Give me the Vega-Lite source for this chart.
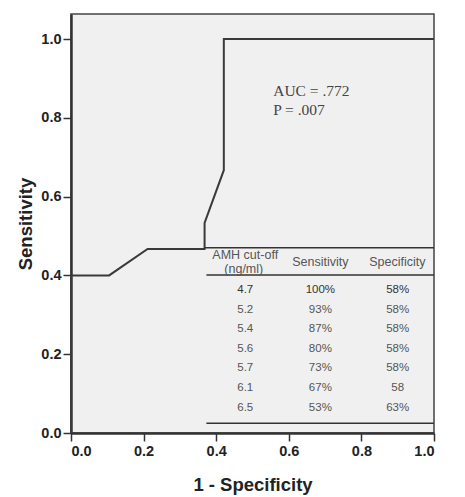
{
  "$schema": "https://vega.github.io/schema/vega-lite/v6.json",
  "autosize": "none",
  "width": 363,
  "height": 419,
  "padding": {"left": 71, "top": 14, "right": 31, "bottom": 64},
  "background": "white",
  "config": {
    "view": {"fill": "#f0f0f0", "stroke": "#444444", "strokeWidth": 1.5},
    "axis": {
      "grid": false,
      "domainColor": "#333333",
      "domainWidth": 2.5,
      "tickColor": "#333333",
      "tickWidth": 1.5,
      "tickSize": 8,
      "labelFont": "Liberation Sans",
      "labelFontWeight": "bold",
      "labelFontSize": 14.5,
      "labelColor": "#222222",
      "titleFont": "Liberation Sans",
      "titleFontWeight": "bold",
      "titleFontSize": 18.5,
      "titleColor": "#222222"
    }
  },
  "datasets": {
    "roc": [
      {"fpr": 0, "tpr": 0, "k": 0},
      {"fpr": 0, "tpr": 0.4, "k": 1},
      {"fpr": 0.105, "tpr": 0.4, "k": 2},
      {"fpr": 0.211, "tpr": 0.467, "k": 3},
      {"fpr": 0.368, "tpr": 0.467, "k": 4},
      {"fpr": 0.368, "tpr": 0.533, "k": 5},
      {"fpr": 0.421, "tpr": 0.667, "k": 6},
      {"fpr": 0.421, "tpr": 1.0, "k": 7},
      {"fpr": 1.0, "tpr": 1.0, "k": 8}
    ],
    "table": [
      {"cutoff": "4.7", "sens": "100%", "spec": "58%", "rowy": 0.363, "bold": true},
      {"cutoff": "5.2", "sens": "93%", "spec": "58%", "rowy": 0.313, "bold": false},
      {"cutoff": "5.4", "sens": "87%", "spec": "58%", "rowy": 0.263, "bold": false},
      {"cutoff": "5.6", "sens": "80%", "spec": "58%", "rowy": 0.214, "bold": false},
      {"cutoff": "5.7", "sens": "73%", "spec": "58%", "rowy": 0.164, "bold": false},
      {"cutoff": "6.1", "sens": "67%", "spec": "58", "rowy": 0.113, "bold": false},
      {"cutoff": "6.5", "sens": "53%", "spec": "63%", "rowy": 0.063, "bold": false}
    ],
    "header": [
      {"label": "AMH cut-off", "hx": 0.48, "hy": 0.452},
      {"label": "(ng/ml)", "hx": 0.476, "hy": 0.416},
      {"label": "Sensitivity", "hx": 0.687, "hy": 0.435},
      {"label": "Specificity", "hx": 0.899, "hy": 0.435}
    ],
    "stats": [
      {"label": "AUC = .772", "sx": 0.557, "sy": 0.868},
      {"label": "P = .007", "sx": 0.557, "sy": 0.82}
    ]
  },
  "layer": [
    {
      "data": {"name": "roc"},
      "mark": {"type": "line", "color": "#3a3a3a", "strokeWidth": 2, "interpolate": "linear"},
      "encoding": {
        "x": {"field": "fpr", "type": "quantitative", "scale": {"domain": [0, 1], "nice": false}, "axis": {"values": [0, 0.2, 0.4, 0.6, 0.8, 1.0], "format": ".1f", "title": "1 - Specificity", "labelPadding": 3, "titlePadding": 18}},
        "y": {"field": "tpr", "type": "quantitative", "scale": {"domain": [0, 1.0635], "nice": false}, "axis": {"values": [0, 0.2, 0.4, 0.6, 0.8, 1.0], "format": ".1f", "title": "Sensitivity", "labelPadding": 2, "titlePadding": 5}},
        "order": {"field": "k", "type": "quantitative"}
      }
    },
    {
      "data": {"values": [{}]},
      "mark": {"type": "rule", "color": "#333333", "strokeWidth": 1.5},
      "encoding": {"x": {"datum": 0.368}, "x2": {"datum": 1}, "y": {"datum": 0.47}}
    },
    {
      "data": {"values": [{}]},
      "mark": {"type": "rule", "color": "#333333", "strokeWidth": 1.5},
      "encoding": {"x": {"datum": 0.373}, "x2": {"datum": 1}, "y": {"datum": 0.401}}
    },
    {
      "data": {"values": [{}]},
      "mark": {"type": "rule", "color": "#333333", "strokeWidth": 1.5},
      "encoding": {"x": {"datum": 0.373}, "x2": {"datum": 1}, "y": {"datum": 0.025}}
    },
    {
      "data": {"name": "header"},
      "mark": {"type": "text", "font": "Liberation Sans", "fontSize": 12.5, "color": "#555555", "align": "center", "baseline": "middle"},
      "encoding": {
        "x": {"field": "hx", "type": "quantitative"},
        "y": {"field": "hy", "type": "quantitative"},
        "text": {"field": "label"}
      }
    },
    {
      "data": {"name": "table"},
      "mark": {"type": "text", "font": "Liberation Sans", "fontSize": 11.5, "align": "center", "baseline": "middle"},
      "encoding": {
        "x": {"datum": 0.48},
        "y": {"field": "rowy", "type": "quantitative"},
        "text": {"field": "cutoff"},
        "color": {"condition": {"test": "datum.bold", "value": "#333333"}, "value": "#555555"},
        "fontWeight": {"condition": {"test": "datum.bold", "value": "bold"}, "value": "normal"}
      }
    },
    {
      "data": {"name": "table"},
      "mark": {"type": "text", "font": "Liberation Sans", "fontSize": 11.5, "align": "center", "baseline": "middle"},
      "encoding": {
        "x": {"datum": 0.687},
        "y": {"field": "rowy", "type": "quantitative"},
        "text": {"field": "sens"},
        "color": {"condition": {"test": "datum.bold", "value": "#333333"}, "value": "#555555"},
        "fontWeight": {"condition": {"test": "datum.bold", "value": "bold"}, "value": "normal"}
      }
    },
    {
      "data": {"name": "table"},
      "mark": {"type": "text", "font": "Liberation Sans", "fontSize": 11.5, "align": "center", "baseline": "middle"},
      "encoding": {
        "x": {"datum": 0.9},
        "y": {"field": "rowy", "type": "quantitative"},
        "text": {"field": "spec"},
        "color": {"condition": {"test": "datum.bold", "value": "#333333"}, "value": "#555555"},
        "fontWeight": {"condition": {"test": "datum.bold", "value": "bold"}, "value": "normal"}
      }
    },
    {
      "data": {"name": "stats"},
      "mark": {"type": "text", "font": "Liberation Serif", "fontSize": 15.5, "color": "#444444", "align": "left", "baseline": "middle"},
      "encoding": {
        "x": {"field": "sx", "type": "quantitative"},
        "y": {"field": "sy", "type": "quantitative"},
        "text": {"field": "label"}
      }
    }
  ]
}
